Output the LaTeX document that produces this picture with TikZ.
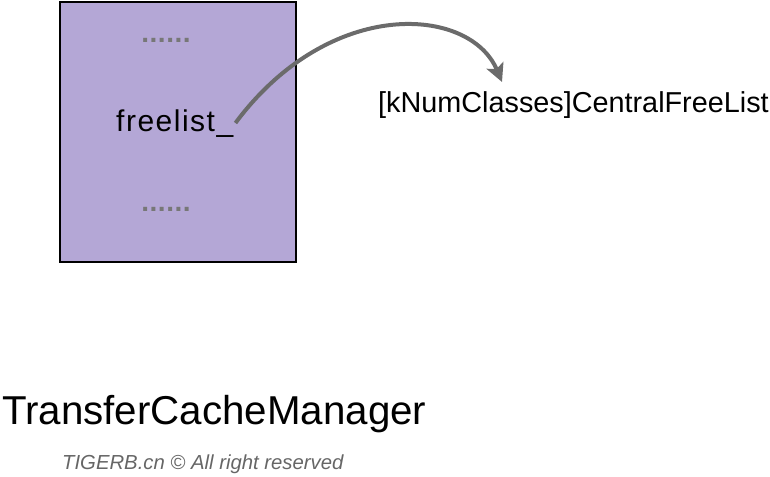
\documentclass[tikz,border=0pt]{standalone}
\usepackage{fontspec}
\setmainfont{Liberation Sans}
\usetikzlibrary{arrows.meta}
\definecolor{boxfill}{HTML}{B4A7D6}
\definecolor{arrowgray}{HTML}{6B6B6B}
\definecolor{dotgray}{HTML}{777777}
\definecolor{copygray}{HTML}{666666}
\begin{document}
\begin{tikzpicture}[x=1pt,y=1pt,
  txt/.style={inner sep=0pt, anchor=base west, text=black},
  dotsnode/.style={inner sep=0pt, anchor=base, text=dotgray, font=\fontsize{28}{30}\bfseries\addfontfeature{LetterSpace=2}},
  boxstyle/.style={draw=black, line width=1.6pt, fill=boxfill},
  link/.style={draw=arrowgray, line width=4pt, -{Stealth[length=18pt,width=18pt,inset=4pt]}}]
\useasboundingbox (0,0) rectangle (770,476);
\path[boxstyle] (60,474) rectangle (296,214);
\node[dotsnode] (d1) at (166,433) {......};
\node[dotsnode] (d2) at (166,264) {......};
\node[txt, font=\fontsize{30}{32}\selectfont\addfontfeature{LetterSpace=5}] (fl) at (116,344) {freelist\_};
\node[txt, font=\fontsize{28.8}{30}\selectfont] (lbl) at (378,363) {[kNumClasses]CentralFreeList};
\node[txt, font=\fontsize{40.3}{44}\selectfont] (title) at (2,51) {TransferCacheManager};
\node[txt, text=copygray, font=\fontsize{20.3}{22}\itshape] (copy) at (62,7) {TIGERB.cn © All right reserved};
\coordinate (s) at ([xshift=2pt,yshift=9pt]fl.base east);
\coordinate (e) at (502,394);
\draw[link] (s) .. controls (330,480) and (470,470) .. (e);
\end{tikzpicture}
\end{document}
